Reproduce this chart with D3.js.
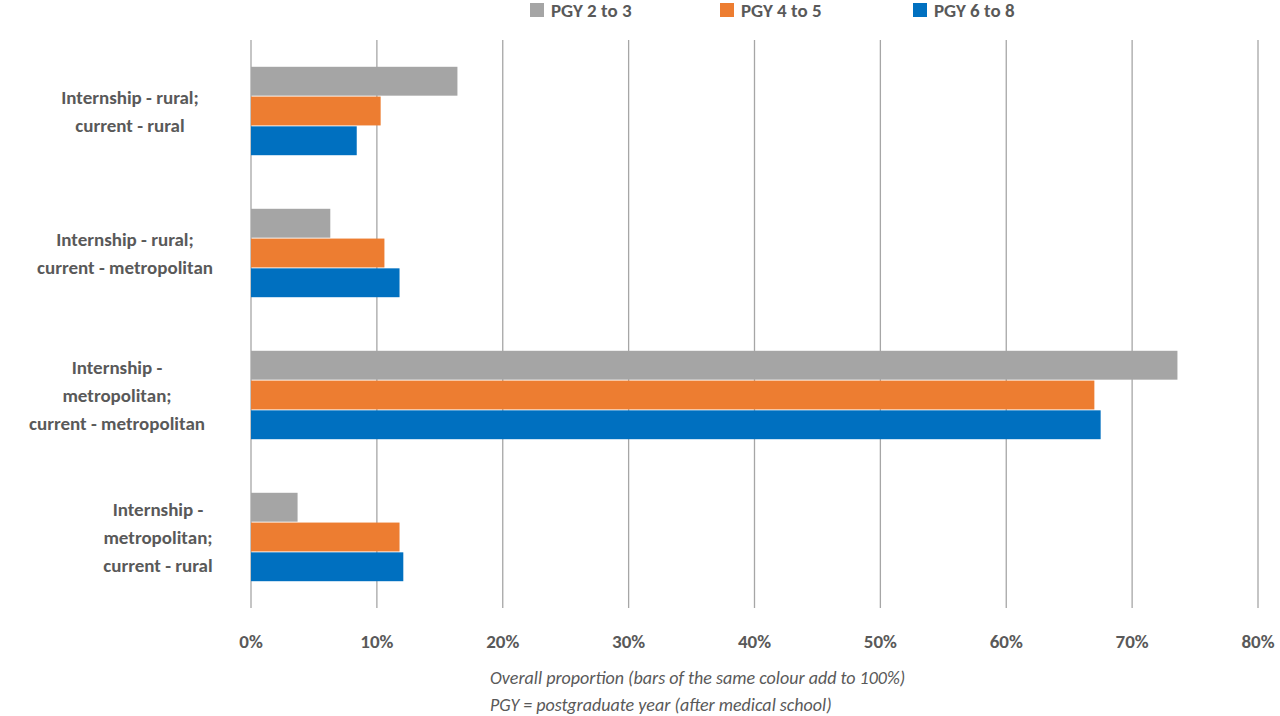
<!DOCTYPE html>
<html><head><meta charset="utf-8">
<script src="https://cdn.jsdelivr.net/npm/d3@7"></script>
<style>body{margin:0;background:#fff}text{font-family:Calibri,"Liberation Sans",Arial,sans-serif}</style>
</head><body><svg id="c" width="1280" height="716"></svg>
<script>
const categories = [
  ["Internship - rural;", "current - rural"],
  ["Internship - rural;", "current - metropolitan"],
  ["Internship -", "metropolitan;", "current - metropolitan"],
  ["Internship -", "metropolitan;", "current - rural"]
];
const seriesNames = ["PGY 2 to 3", "PGY 4 to 5", "PGY 6 to 8"];
const seriesColors = ["#A5A5A5", "#ED7D31", "#0070C0"];
const pgy23 = [16.4, 6.3, 73.6, 3.7];
const pgy45 = [10.3, 10.6, 67.0, 11.8];
const pgy68 = [8.4, 11.8, 67.5, 12.1];
const ticks = [0, 10, 20, 30, 40, 50, 60, 70, 80];
const notes = ["Overall proportion (bars of the same colour add to 100%)", "PGY = postgraduate year (after medical school)"];

const series = [pgy23, pgy45, pgy68];
const labelX = [130, 125, 117, 158];
const svg = d3.select("#c");
const m = {left: 251, right: 1258, top: 40, bottom: 608};
const x = d3.scaleLinear().domain([0, 80]).range([m.left, m.right]);
const y = d3.scaleBand().domain(d3.range(categories.length)).range([m.top, m.bottom]);
const inner = d3.scaleBand().domain(d3.range(3)).range([0, y.bandwidth()]).paddingOuter(0.9).paddingInner(0.03);

svg.append("g").selectAll("line").data(ticks).join("line")
  .attr("x1", d => x(d)).attr("x2", d => x(d))
  .attr("y1", m.top).attr("y2", m.bottom)
  .attr("stroke", "#a6a6a6").attr("stroke-width", 1.3);

series.forEach((vals, s) => {
  svg.append("g").selectAll("rect").data(vals).join("rect")
    .attr("x", x(0)).attr("y", (d, i) => y(i) + inner(s))
    .attr("width", d => x(d) - x(0)).attr("height", inner.bandwidth())
    .attr("fill", seriesColors[s]);
});

svg.append("g").selectAll("text").data(ticks).join("text")
  .attr("x", d => x(d)).attr("y", 648).attr("text-anchor", "middle")
  .attr("font-size", 19).attr("font-weight", "bold").attr("fill", "#595959")
  .text(d => d + "%");

categories.forEach((lines, i) => {
  const cy = y(i) + y.bandwidth() / 2;
  const t = svg.append("text").attr("text-anchor", "middle").attr("font-size", 19)
    .attr("font-weight", "bold").attr("fill", "#595959");
  lines.forEach((l, k) => t.append("tspan").attr("x", labelX[i])
    .attr("y", cy + (k - (lines.length - 1) / 2) * 28 + 7).text(l));
});

const lg = svg.append("g");
const lx = [530, 720, 913];
seriesNames.forEach((n, s) => {
  lg.append("rect").attr("x", lx[s]).attr("y", 3).attr("width", 14).attr("height", 14).attr("fill", seriesColors[s]);
  lg.append("text").attr("x", lx[s] + 21).attr("y", 17).attr("font-size", 19)
    .attr("font-weight", "bold").attr("fill", "#595959").text(n);
});

notes.forEach((n, k) => svg.append("text").attr("x", 490).attr("y", 684 + k * 27)
  .attr("font-size", 18).attr("font-style", "italic").attr("fill", "#595959").text(n));
</script></body></html>
